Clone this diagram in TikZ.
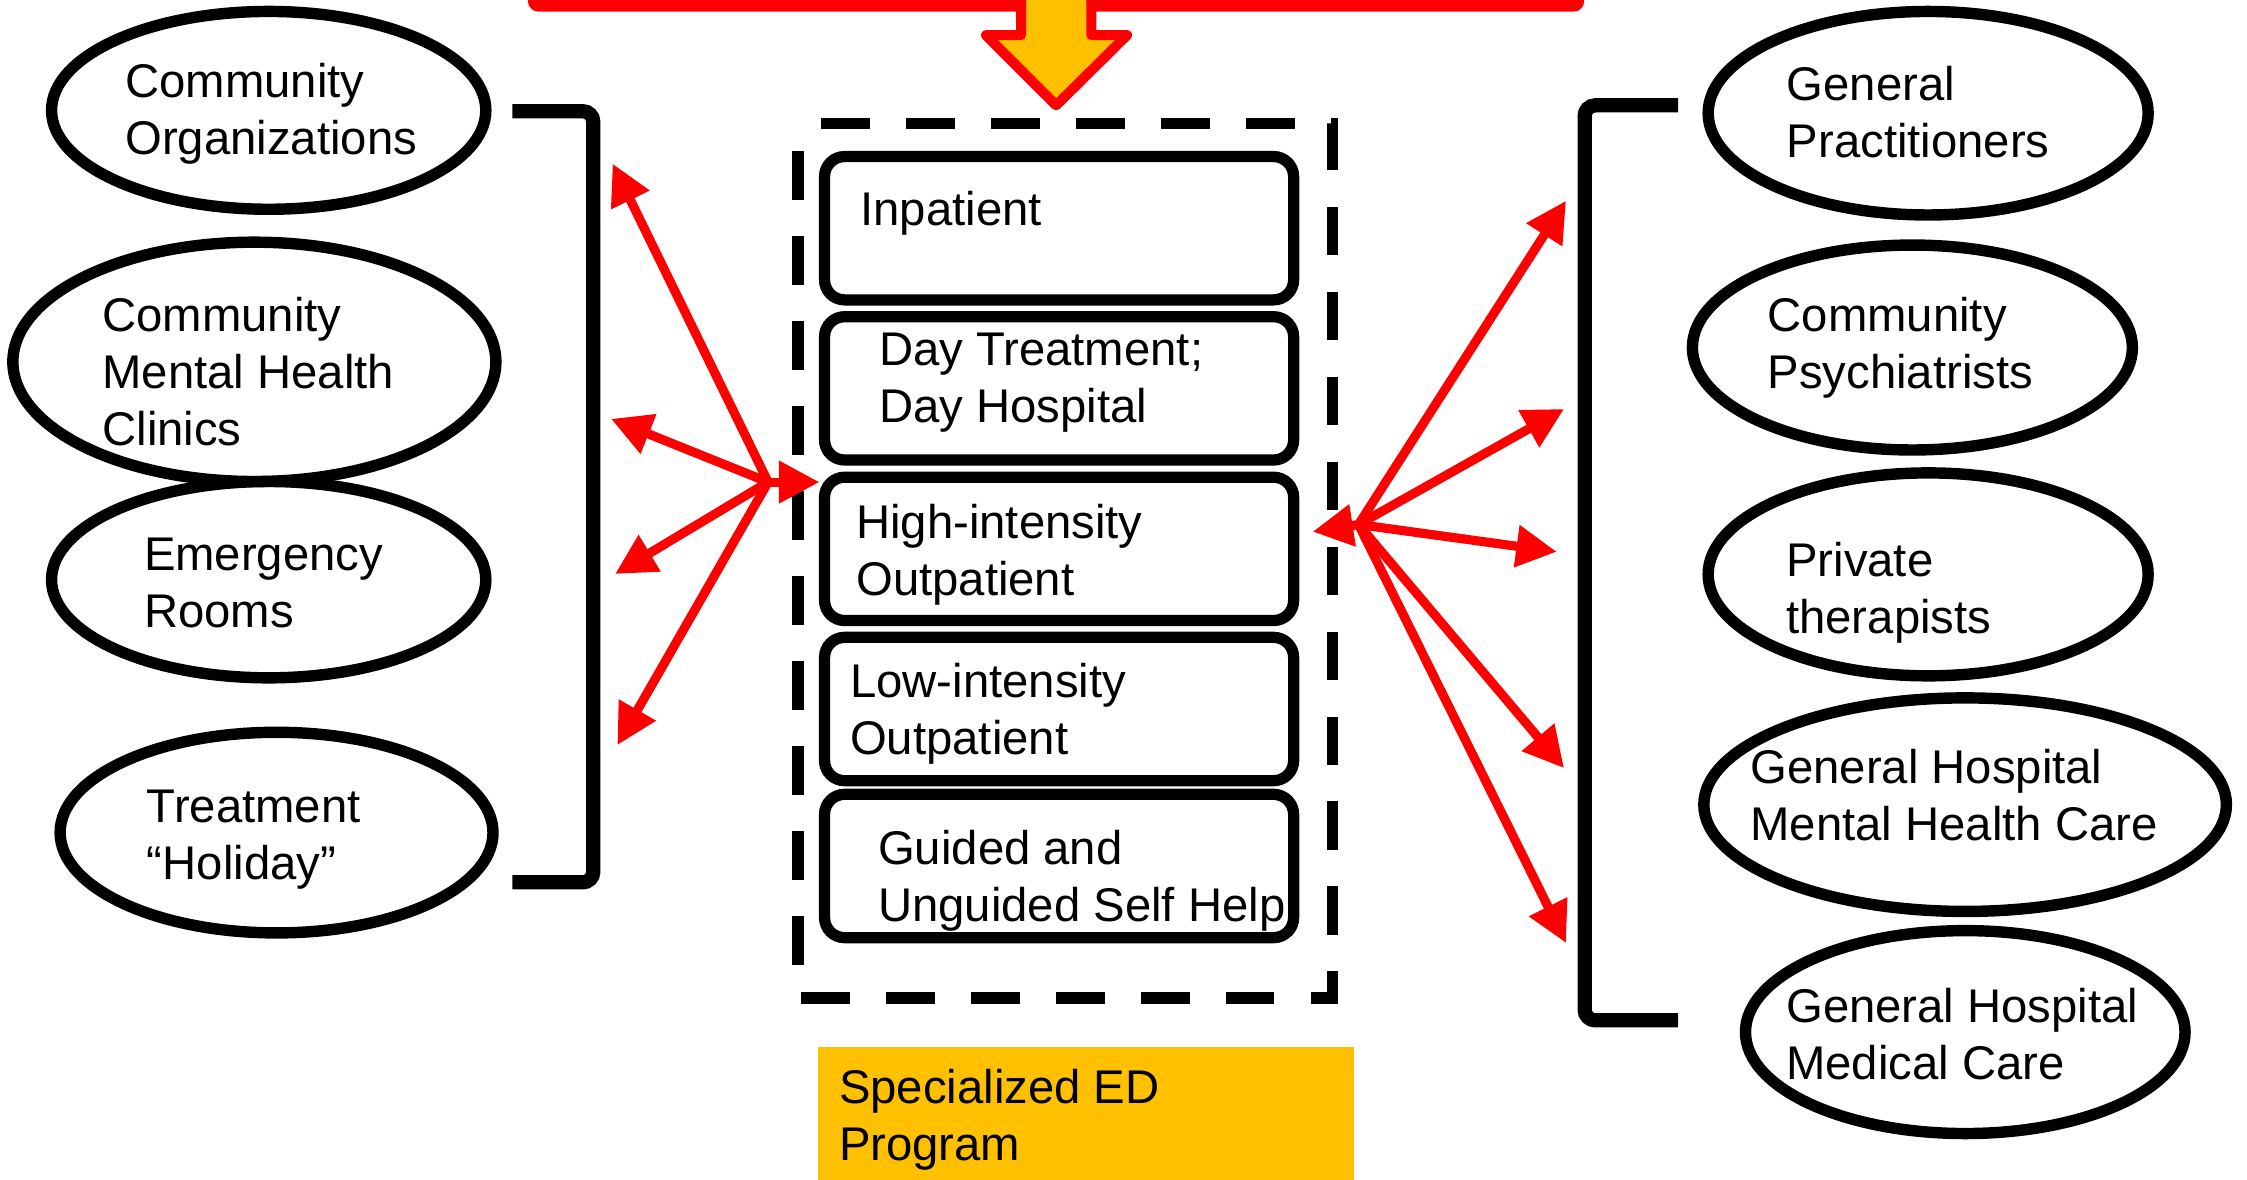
\documentclass[tikz,border=0pt]{standalone}
\usepackage{fontspec}
\setmainfont{Liberation Sans}
\usetikzlibrary{shapes.geometric,arrows.meta}
\definecolor{edyellow}{RGB}{255,192,0}
\newcommand\mlines[1]{\begin{tabular}[t]{@{}l@{}}#1\end{tabular}}
\begin{document}
\begin{tikzpicture}[x=0.01433cm,y=-0.01433cm,
  ell/.style={draw, ellipse, line width=3.25pt, inner sep=0pt},
  txt/.style={anchor=base west, inner sep=0pt, font=\fontsize{13.45pt}{16.25pt}\selectfont},
  stage/.style={draw, rounded corners=0.2cm, line width=3.2pt, minimum width=4.69cm, minimum height=1.433cm, inner sep=0pt},
  link/.style={draw=red, line width=2.6pt, -{Triangle[length=11.5pt,width=11.5pt]}},
  brk/.style={line width=4.06pt, rounded corners=3pt},
]
\useasboundingbox (0,0) rectangle (1568,823);
\clip (0,0) rectangle (1568,823);

% top arrow and bar
\filldraw[fill=edyellow, draw=red, line width=2.85pt, line join=round]
  (712.5,-10) -- (712.5,24.5) -- (688,24.5) -- (737,73.5) -- (786.5,24.5) -- (761.5,24.5) -- (761.5,-10);
\fill[red, rounded corners=3pt] (368.4,-6) rectangle (716,8.1);
\fill[red, rounded corners=3pt] (758,-6) rectangle (1105.5,8.1);

% left ellipses
\node[ell, minimum width=4.342cm, minimum height=1.978cm] (co) at (187.5,77) {};
\node[ell, minimum width=4.829cm, minimum height=2.393cm] (cmhc) at (177.5,252.5) {};
\node[ell, minimum width=4.342cm, minimum height=1.963cm] (er) at (187.5,404.5) {};
\node[ell, minimum width=4.328cm, minimum height=2.006cm] (th) at (193,581) {};
\node[txt] (tco) at (87,68) {\mlines{Community\\Organizations}};
\node[txt] (tcmhc) at (71,231) {\mlines{Community\\Mental Health\\Clinics}};
\node[txt] (ter) at (100,398) {\mlines{Emergency\\Rooms}};
\node[txt] (tth) at (102,574) {\mlines{Treatment\\“Holiday”}};

% right ellipses
\node[ell, minimum width=4.399cm, minimum height=2.035cm] (gp) at (1345.5,79) {};
\node[ell, minimum width=4.399cm, minimum height=2.049cm] (cp) at (1334.5,242.5) {};
\node[ell, minimum width=4.399cm, minimum height=2.029cm] (pt) at (1345.5,400.8) {};
\node[ell, minimum width=5.225cm, minimum height=2.135cm] (ghmh) at (1371.3,561.5) {};
\node[ell, minimum width=4.395cm, minimum height=2.029cm] (ghmc) at (1371.4,720.2) {};
\node[txt] (tgp) at (1246.4,70) {\mlines{General\\Practitioners}};
\node[txt] (tcp) at (1233,231) {\mlines{Community\\Psychiatrists}};
\node[txt] (tpt) at (1246,402.4) {\mlines{Private\\therapists}};
\node[txt] (tghmh) at (1221,546.4) {\mlines{General Hospital\\Mental Health Care}};
\node[txt] (tghmc) at (1246,713.6) {\mlines{General Hospital\\Medical Care}};

% brackets
\draw[brk] (357.6,77.6) -- (414,77.6) -- (414,615.7) -- (357.6,615.7);
\draw[brk] (1171,73.5) -- (1105.8,73.5) -- (1105.8,712) -- (1171,712);

% dashed program frame
\draw[line width=3.25pt, dash pattern=on 13.81pt off 10.36pt, dash phase=17.55pt]
  (557,86) -- (930,86) -- (930,696.5) -- (557,696.5) -- cycle;

% stage boxes
\node[stage] (inp) at (739.05,159.25) {};
\node[stage] (day) at (739.05,271) {};
\node[stage] (hio) at (739.05,383) {};
\node[stage] (loo) at (739.05,494.75) {};
\node[stage] (self) at (739.05,604.3) {};
\node[txt] (tinp) at (600,157.3) {Inpatient};
\node[txt] (tday) at (613,255.3) {\mlines{Day Treatment;\\Day Hospital}};
\node[txt] (thio) at (597,376) {\mlines{High-intensity\\Outpatient}};
\node[txt] (tloo) at (592.7,486.4) {\mlines{Low-intensity\\Outpatient}};
\node[txt] (tself) at (612.3,603.4) {\mlines{Guided and\\Unguided Self Help}};

% specialized ED label
\node[fill=edyellow, anchor=north west, minimum width=5.368cm, minimum height=1.5cm, inner sep=0pt] (spec) at (570,730) {};
\node[txt] (tspec) at (585,770) {\mlines{Specialized ED\\Program}};

% hubs and arrow ends
\coordinate (L) at (536,336.4);
\coordinate (la1) at (427.5,114.2);
\coordinate (la2) at (426.4,292.3);
\coordinate (la3) at (429.2,400.5);
\coordinate (la4) at (430.8,519.9);
\coordinate (lb) at (571.8,336.4);
\coordinate (R) at (948,366);
\coordinate (ra1) at (1092.8,140.1);
\coordinate (ra2) at (1091.4,285.4);
\coordinate (ra3) at (1086.3,385);
\coordinate (ra4) at (1091.4,536);
\coordinate (ra5) at (1092.8,658);
\coordinate (rb) at (916,371);

\foreach \t in {la1,la2,la3,la4,lb} \draw[link] (L) -- (\t);
\foreach \t in {ra1,ra2,ra3,ra4,ra5,rb} \draw[link] (R) -- (\t);
\end{tikzpicture}
\end{document}
